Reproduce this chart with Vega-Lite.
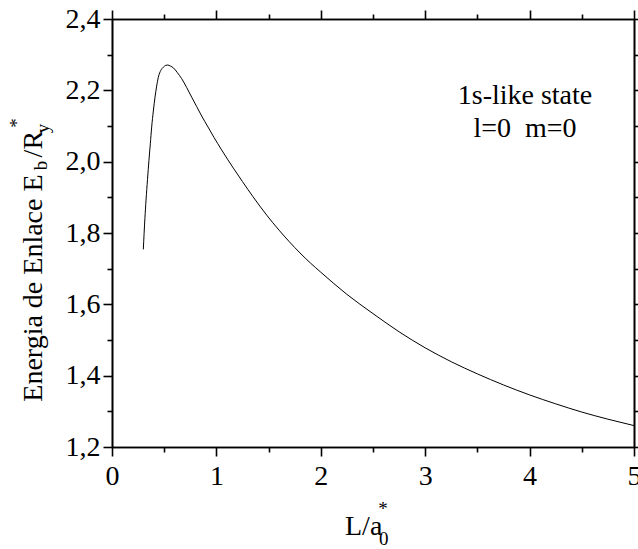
{
  "$schema": "https://vega.github.io/schema/vega-lite/v6.json",
  "width": 522,
  "height": 428,
  "autosize": {"type": "none"},
  "padding": {"left": 112, "top": 19, "right": 4, "bottom": 102},
  "background": "white",
  "config": {
    "view": {"stroke": null},
    "font": "Liberation Serif",
    "text": {"font": "Liberation Serif", "fill": "black"},
    "axis": {"domainColor": "black", "tickColor": "black", "labelColor": "black", "domainWidth": 1.6, "tickWidth": 1.6, "grid": false, "labelFont": "Liberation Serif", "labelFontSize": 28}
  },
  "datasets": {
    "curve": [
      {"L": 0.30, "E": 1.754}, {"L": 0.315, "E": 1.84}, {"L": 0.326, "E": 1.892}, {"L": 0.34, "E": 1.95},
      {"L": 0.354, "E": 2.004}, {"L": 0.367, "E": 2.05}, {"L": 0.38, "E": 2.097}, {"L": 0.396, "E": 2.142},
      {"L": 0.412, "E": 2.181}, {"L": 0.428, "E": 2.212}, {"L": 0.444, "E": 2.237}, {"L": 0.468, "E": 2.256},
      {"L": 0.492, "E": 2.265}, {"L": 0.515, "E": 2.27}, {"L": 0.533, "E": 2.271}, {"L": 0.56, "E": 2.268},
      {"L": 0.588, "E": 2.263}, {"L": 0.625, "E": 2.25}, {"L": 0.667, "E": 2.233}, {"L": 0.715, "E": 2.208},
      {"L": 0.763, "E": 2.181}, {"L": 0.81, "E": 2.155}, {"L": 0.859, "E": 2.128}, {"L": 0.92, "E": 2.097},
      {"L": 0.977, "E": 2.068}, {"L": 1.05, "E": 2.033}, {"L": 1.162, "E": 1.982}, {"L": 1.25, "E": 1.944},
      {"L": 1.35, "E": 1.902}, {"L": 1.482, "E": 1.85}, {"L": 1.6, "E": 1.808}, {"L": 1.7, "E": 1.775},
      {"L": 1.801, "E": 1.744}, {"L": 1.9, "E": 1.716}, {"L": 2.0, "E": 1.69}, {"L": 2.25, "E": 1.628},
      {"L": 2.5, "E": 1.574}, {"L": 2.75, "E": 1.523}, {"L": 3.0, "E": 1.478}, {"L": 3.25, "E": 1.439},
      {"L": 3.5, "E": 1.405}, {"L": 3.75, "E": 1.374}, {"L": 4.0, "E": 1.346}, {"L": 4.25, "E": 1.321},
      {"L": 4.5, "E": 1.298}, {"L": 4.75, "E": 1.278}, {"L": 5.0, "E": 1.26}
    ],
    "ytitle": [{"x": -0.673, "y": 1.327, "t": "Energia de Enlace E"}, {"x": -0.673, "y": 2.012, "t": "/R"}],
    "ysub": [{"x": -0.623, "y": 1.976, "t": "b"}, {"x": -0.603, "y": 2.08, "t": "y"}],
    "ysup": [{"x": -0.852, "y": 2.095, "t": "*"}],
    "xtitle": [{"x": 2.232, "y": 0.9535, "t": "L/a"}],
    "xsub": [{"x": 2.557, "y": 0.9255, "t": "0"}],
    "xsup": [{"x": 2.55, "y": 1.008, "t": "*"}],
    "note": [{"x": 3.956, "y": 2.163, "t": "1s-like state"}, {"x": 3.956, "y": 2.069, "t": "l=0\u00a0 m=0"}]
  },
  "layer": [
    {
      "data": {"name": "curve"},
      "mark": {"type": "line", "color": "black", "strokeWidth": 1, "interpolate": "monotone"},
      "encoding": {
        "x": {"field": "L", "type": "quantitative", "scale": {"domain": [0, 5], "nice": false, "zero": false},
              "axis": {"orient": "bottom", "values": [0, 1, 2, 3, 4, 5], "tickSize": 9, "labelPadding": 6, "title": null, "labelFlush": false, "labelOverlap": false, "format": "d", "labelFont": "Liberation Serif", "labelFontSize": 28, "labelColor": "black"}},
        "y": {"field": "E", "type": "quantitative", "scale": {"domain": [1.2, 2.4], "nice": false, "zero": false},
              "axis": {"orient": "left", "values": [1.2, 1.4, 1.6, 1.8, 2.0, 2.2, 2.4], "tickSize": 9, "labelPadding": 3, "title": null, "labelFlush": false, "labelOverlap": false, "labelFont": "Liberation Serif", "labelFontSize": 28, "labelColor": "black", "labelExpr": "replace(format(datum.value, '.1f'), '.', ',')"}}
      }
    },
    {
      "data": {"name": "curve"},
      "mark": {"type": "line", "opacity": 0},
      "encoding": {
        "x": {"field": "L", "type": "quantitative", "scale": {"domain": [0, 5], "nice": false, "zero": false},
              "axis": {"orient": "bottom", "values": [0.5, 1.5, 2.5, 3.5, 4.5], "tickSize": 5, "labels": false, "title": null}},
        "y": {"field": "E", "type": "quantitative", "scale": {"domain": [1.2, 2.4], "nice": false, "zero": false},
              "axis": {"orient": "left", "values": [1.3, 1.5, 1.7, 1.9, 2.1, 2.3], "tickSize": 5, "labels": false, "title": null}}
      }
    },
    {
      "data": {"name": "curve"},
      "mark": {"type": "line", "opacity": 0},
      "encoding": {
        "x": {"field": "L", "type": "quantitative", "scale": {"domain": [0, 5], "nice": false, "zero": false},
              "axis": {"orient": "top", "values": [0, 1, 2, 3, 4, 5], "tickSize": 9, "labels": false, "title": null}},
        "y": {"field": "E", "type": "quantitative", "scale": {"domain": [1.2, 2.4], "nice": false, "zero": false},
              "axis": {"orient": "right", "values": [1.2, 1.4, 1.6, 1.8, 2.0, 2.2, 2.4], "tickSize": 9, "labels": false, "title": null}}
      }
    },
    {
      "data": {"name": "curve"},
      "mark": {"type": "line", "opacity": 0},
      "encoding": {
        "x": {"field": "L", "type": "quantitative", "scale": {"domain": [0, 5], "nice": false, "zero": false},
              "axis": {"orient": "top", "values": [0.5, 1.5, 2.5, 3.5, 4.5], "tickSize": 5, "labels": false, "title": null}},
        "y": {"field": "E", "type": "quantitative", "scale": {"domain": [1.2, 2.4], "nice": false, "zero": false},
              "axis": {"orient": "right", "values": [1.3, 1.5, 1.7, 1.9, 2.1, 2.3], "tickSize": 5, "labels": false, "title": null}}
      }
    },
    {
      "data": {"name": "ytitle"},
      "mark": {"type": "text", "angle": 270, "align": "left", "baseline": "alphabetic", "fontSize": 28, "font": "Liberation Serif", "fill": "black"},
      "encoding": {
        "x": {"field": "x", "type": "quantitative", "scale": {"domain": [0, 5], "nice": false, "zero": false}, "axis": null},
        "y": {"field": "y", "type": "quantitative", "scale": {"domain": [1.2, 2.4], "nice": false, "zero": false}, "axis": null},
        "text": {"field": "t"}
      }
    },
    {
      "data": {"name": "ysub"},
      "mark": {"type": "text", "angle": 270, "align": "left", "baseline": "alphabetic", "fontSize": 19, "font": "Liberation Serif", "fill": "black"},
      "encoding": {
        "x": {"field": "x", "type": "quantitative", "scale": {"domain": [0, 5], "nice": false, "zero": false}, "axis": null},
        "y": {"field": "y", "type": "quantitative", "scale": {"domain": [1.2, 2.4], "nice": false, "zero": false}, "axis": null},
        "text": {"field": "t"}
      }
    },
    {
      "data": {"name": "ysup"},
      "mark": {"type": "text", "angle": 270, "align": "left", "baseline": "alphabetic", "fontSize": 19, "font": "Liberation Serif", "fill": "black"},
      "encoding": {
        "x": {"field": "x", "type": "quantitative", "scale": {"domain": [0, 5], "nice": false, "zero": false}, "axis": null},
        "y": {"field": "y", "type": "quantitative", "scale": {"domain": [1.2, 2.4], "nice": false, "zero": false}, "axis": null},
        "text": {"field": "t"}
      }
    },
    {
      "data": {"name": "xtitle"},
      "mark": {"type": "text", "align": "left", "baseline": "alphabetic", "fontSize": 28, "font": "Liberation Serif", "fill": "black"},
      "encoding": {
        "x": {"field": "x", "type": "quantitative", "scale": {"domain": [0, 5], "nice": false, "zero": false}, "axis": null},
        "y": {"field": "y", "type": "quantitative", "scale": {"domain": [1.2, 2.4], "nice": false, "zero": false}, "axis": null},
        "text": {"field": "t"}
      }
    },
    {
      "data": {"name": "xsub"},
      "mark": {"type": "text", "align": "left", "baseline": "alphabetic", "fontSize": 19, "font": "Liberation Serif", "fill": "black"},
      "encoding": {
        "x": {"field": "x", "type": "quantitative", "scale": {"domain": [0, 5], "nice": false, "zero": false}, "axis": null},
        "y": {"field": "y", "type": "quantitative", "scale": {"domain": [1.2, 2.4], "nice": false, "zero": false}, "axis": null},
        "text": {"field": "t"}
      }
    },
    {
      "data": {"name": "xsup"},
      "mark": {"type": "text", "align": "left", "baseline": "alphabetic", "fontSize": 19, "font": "Liberation Serif", "fill": "black"},
      "encoding": {
        "x": {"field": "x", "type": "quantitative", "scale": {"domain": [0, 5], "nice": false, "zero": false}, "axis": null},
        "y": {"field": "y", "type": "quantitative", "scale": {"domain": [1.2, 2.4], "nice": false, "zero": false}, "axis": null},
        "text": {"field": "t"}
      }
    },
    {
      "data": {"name": "note"},
      "mark": {"type": "text", "align": "center", "baseline": "alphabetic", "fontSize": 28, "font": "Liberation Serif", "fill": "black"},
      "encoding": {
        "x": {"field": "x", "type": "quantitative", "scale": {"domain": [0, 5], "nice": false, "zero": false}, "axis": null},
        "y": {"field": "y", "type": "quantitative", "scale": {"domain": [1.2, 2.4], "nice": false, "zero": false}, "axis": null},
        "text": {"field": "t"}
      }
    }
  ],
  "resolve": {"axis": {"x": "independent", "y": "independent"}}
}
